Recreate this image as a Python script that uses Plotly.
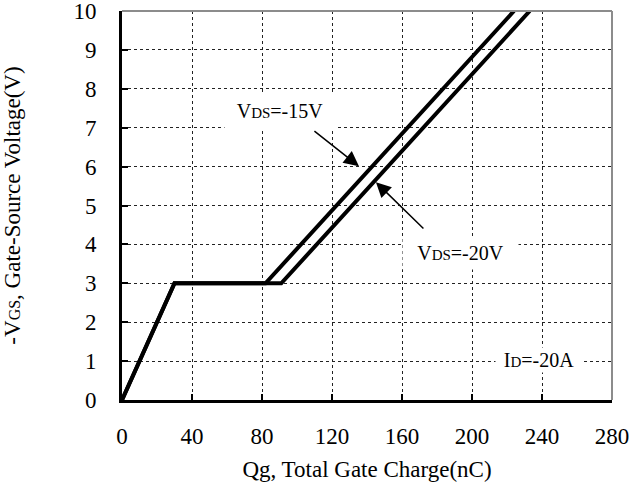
import plotly.graph_objects as go

# Data
qg_15 = [0, 30, 82, 224]          # nC, VDS=-15V
vgs_15 = [0, 3, 3, 10]            # V
qg_20 = [0, 30, 91, 233]          # nC, VDS=-20V
vgs_20 = [0, 3, 3, 10]            # V

x_ticks = [0, 40, 80, 120, 160, 200, 240, 280]
y_ticks = [0, 1, 2, 3, 4, 5, 6, 7, 8, 9, 10]

FONT = "Liberation Serif, Times New Roman, serif"
AX = 23

fig = go.Figure()
fig.add_trace(go.Scatter(x=qg_15, y=vgs_15, mode="lines",
                         line=dict(color="black", width=4), showlegend=False))
fig.add_trace(go.Scatter(x=qg_20, y=vgs_20, mode="lines",
                         line=dict(color="black", width=4), showlegend=False))

small = "<span style='font-size:15px'>%s</span>"

labels = [
    dict(text="V" + small % "DS" + "=-15V", x=90.3, y=7.43, w=104, h=30),
    dict(text="V" + small % "DS" + "=-20V", x=193.4, y=3.78, w=109, h=26),
    dict(text="I" + small % "D" + "=-20A", x=238, y=1.03, w=80, h=18),
]
annotations = []
for lb in labels:
    annotations.append(dict(
        x=lb["x"], y=lb["y"], xref="x", yref="y", text=lb["text"],
        showarrow=False, bgcolor="white", width=lb["w"], height=lb["h"],
        borderpad=3, font=dict(family=FONT, size=20, color="black"),
        xanchor="center", yanchor="middle", align="center"))

arrows = [
    dict(tail=(109.1, 6.94), tip=(135.4, 6.01)),
    dict(tail=(173.1, 4.37), tip=(145.1, 5.60)),
]
for a in arrows:
    annotations.append(dict(
        x=a["tip"][0], y=a["tip"][1], ax=a["tail"][0], ay=a["tail"][1],
        xref="x", yref="y", axref="x", ayref="y", text="",
        showarrow=True, arrowhead=2, arrowsize=2, arrowwidth=1.5,
        arrowcolor="black"))

fig.update_layout(
    width=632, height=488,
    margin=dict(l=122, r=20, t=11, b=88),
    paper_bgcolor="white", plot_bgcolor="white",
    font=dict(family=FONT, size=AX, color="black"),
    annotations=annotations,
    shapes=[
        dict(type="line", xref="paper", yref="paper", x0=0, x1=1, y0=1, y1=1,
             line=dict(color="#8c8c8c", width=2)),
        dict(type="line", xref="paper", yref="paper", x0=1, x1=1, y0=0, y1=1,
             line=dict(color="#8c8c8c", width=2)),
    ],
)

fig.update_xaxes(
    range=[0, 280], tickvals=x_ticks, ticktext=[str(v) for v in x_ticks],
    showline=True, linecolor="black", linewidth=3,
    ticks="inside", ticklen=6, tickwidth=2, tickcolor="black",
    showgrid=True, gridcolor="#222", gridwidth=1, griddash="dot",
    zeroline=False, ticklabelstandoff=13, automargin=False,
    ticklabeloverflow="allow",
    tickfont=dict(family=FONT, size=AX, color="black"),
    title=dict(text="Qg, Total Gate Charge(nC)", standoff=14,
               font=dict(family=FONT, size=AX, color="black")),
)
fig.update_yaxes(
    range=[0, 10], tickvals=y_ticks, ticktext=[str(v) for v in y_ticks],
    showline=True, linecolor="black", linewidth=3,
    ticks="inside", ticklen=6, tickwidth=2, tickcolor="black",
    showgrid=True, gridcolor="#222", gridwidth=1, griddash="dot",
    zeroline=False, ticklabelstandoff=18, automargin=False,
    ticklabeloverflow="allow",
    tickfont=dict(family=FONT, size=AX, color="black"),
    title=dict(text="-V" + "<span style='font-size:16px'>GS</span>"
               + ", Gate-Source Voltage(V)", standoff=50,
               font=dict(family=FONT, size=23, color="black")),
)

fig.write_html("out.html")
